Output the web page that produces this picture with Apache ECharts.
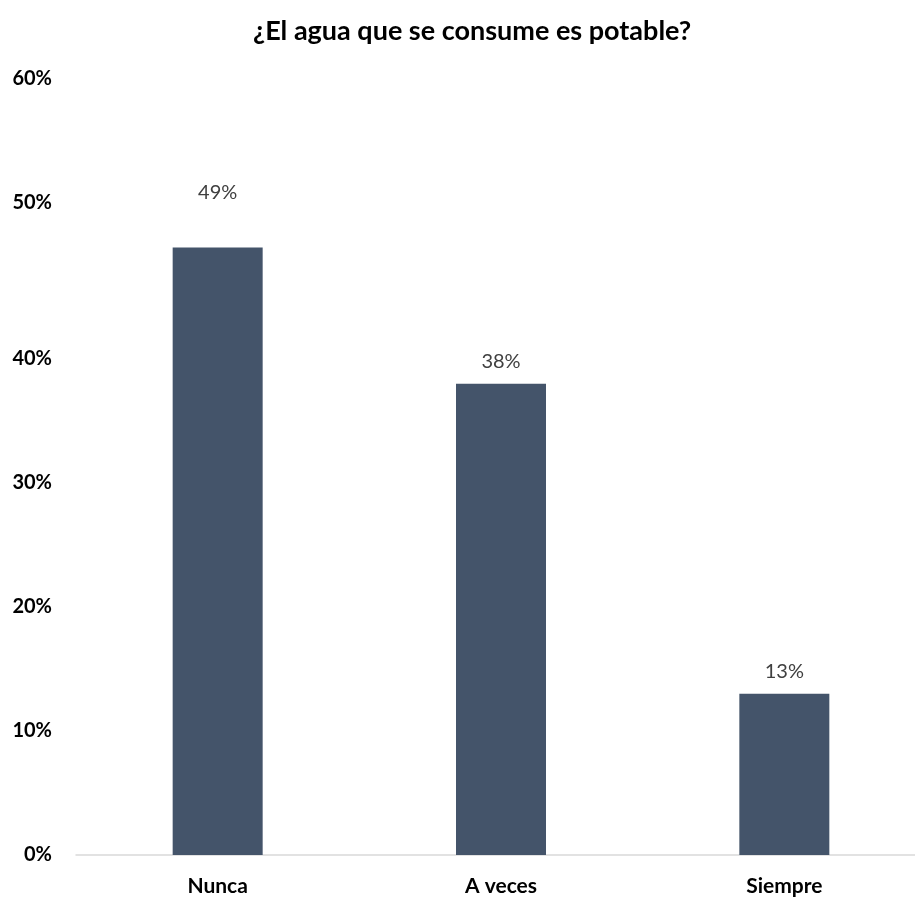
<!DOCTYPE html>
<html>
<head>
<meta charset="utf-8">
<script src="https://cdn.jsdelivr.net/npm/echarts@6/dist/echarts.min.js"></script>
<style>
  html, body { margin: 0; padding: 0; background: #ffffff; overflow: hidden; }
  #chart { width: 915px; height: 898px; }
</style>
</head>
<body>
<div id="chart"></div>
<script>
// Survey answers: is the water consumed drinkable?
const categories = ['Nunca', 'A veces', 'Siempre'];
const shares = [49, 38, 13];
const yTicks = [0, 10, 20, 30, 40, 50, 60];

const chart = echarts.init(document.getElementById('chart'));
const font = 'Lato, "Open Sans", sans-serif';

chart.setOption({
  animation: false,
  backgroundColor: '#ffffff',
  title: {
    text: '¿El agua que se consume es potable?',
    left: 248,
    top: 13,
    textStyle: { fontFamily: font, fontSize: 27, fontWeight: 'bold', color: '#000000' }
  },
  grid: {
    left: 76, width: 850, top: 111, bottom: 43,
    containLabel: false,
    outerBoundsMode: 'none'
  },
  xAxis: {
    type: 'category',
    data: categories,
    axisLine: { lineStyle: { color: '#d9d9d9', width: 1.5 } },
    axisTick: { show: false },
    axisLabel: {
      margin: 21,
      fontFamily: font, fontSize: 21, fontWeight: 'bold', color: '#000000'
    }
  },
  yAxis: {
    type: 'value',
    min: yTicks[0],
    max: yTicks[yTicks.length - 1],
    interval: 10,
    splitLine: { show: false },
    axisLine: { show: false },
    axisTick: { show: false },
    axisLabel: {
      margin: 24,
      fontFamily: font, fontSize: 20, fontWeight: 'bold', color: '#000000',
      formatter: function (v) {
        return v >= 50 ? '{hi|' + v + '%}' : v + '%';
      },
      rich: {
        hi: { fontFamily: font, fontSize: 20, fontWeight: 'bold', color: '#000000', padding: [0, 0, 64, 0] }
      }
    }
  },
  series: [{
    type: 'bar',
    data: shares,
    barWidth: 90,
    itemStyle: { color: '#44546a' },
    label: {
      show: true,
      position: 'top',
      distance: 12,
      fontFamily: font, fontSize: 20, color: '#404040',
      formatter: function (p) {
        return p.value >= 45 ? '{hi|' + p.value + '%}' : p.value + '%';
      },
      rich: {
        hi: { fontFamily: font, fontSize: 20, color: '#404040', padding: [0, 0, 33, 0] }
      }
    }
  }]
});
</script>
</body>
</html>
